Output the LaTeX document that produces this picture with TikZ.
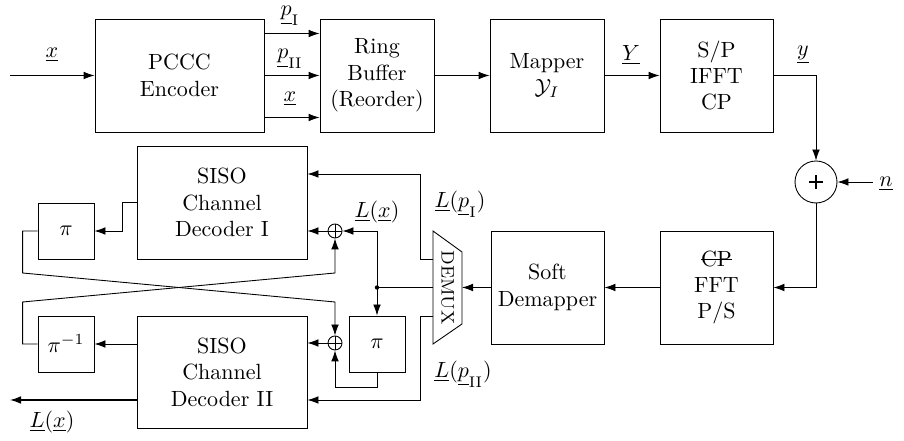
\documentclass[tikz,border=0pt]{standalone}
\usepackage{amsmath}
\usetikzlibrary{arrows.meta,calc}
\def\pu{0.4545pt}
\newcommand\demuxfont{\fontsize{8.2}{10}\selectfont}
\newcommand\mystrike[1]{\setbox0\hbox{#1}\rlap{\rule[0.4\ht0]{\wd0}{0.4pt}}\box0}
\tikzset{
  blk/.style={draw, minimum width=#1*\pu, minimum height=113*\pu, inner sep=0pt, align=center},
  smallblk/.style={draw, minimum size=56*\pu, inner sep=0pt},
  lbl/.style={inner sep=0pt},
  arr/.style={-{Latex[length=5pt,width=3.5pt]}},
  oplus/.style={draw, circle, minimum size=14*\pu, inner sep=0pt,
    path picture={\draw (path picture bounding box.north) -- (path picture bounding box.south)
      (path picture bounding box.west) -- (path picture bounding box.east);}}
}
\begin{document}
\begin{tikzpicture}[x=0.4545pt, y=-0.4545pt, line width=0.4pt]
\fill[white] (0,0) rectangle (904,441);
\useasboundingbox (0,0) rectangle (904,441);
% top row
\node[blk=169] (enc) at (179.5,75.5) {PCCC\\Encoder};
\node[blk=114] (rb) at (377,75.5) {Ring\\Buffer\\(Reorder)};
\node[blk=114] (map) at (547,75.5) {Mapper\\$\mathcal{Y}_I$};
\node[blk=113] (sp) at (716.5,75.5) {S/P\\IFFT\\CP};
\node[draw, circle, minimum size=42*\pu, inner sep=0pt] (add) at (816,182) {};
\draw[line width=1.3pt] ([xshift=-3.3pt]add.center) -- ([xshift=3.3pt]add.center)
  ([yshift=-3.3pt]add.center) -- ([yshift=3.3pt]add.center);
% bottom right
\node[blk=113] (fft) at (716.5,287.5) {\mystrike{CP}\\FFT\\P/S};
\node[blk=113] (dem) at (547.5,287.5) {Soft\\Demapper};
\draw (433,231) coordinate (dmtl) -- (462,252) coordinate (dmtr) -- (462,324) coordinate (dmbr) -- (433,344) coordinate (dmbl) -- cycle;
\node[rotate=-90, font=\demuxfont, inner sep=0pt] (demux) at (447.5,287.5) {DEMUX};
% decoders
\node[blk=170] (dec1) at (222,202.5) {SISO\\Channel\\Decoder I};
\node[blk=170, minimum height=112*\pu] (dec2) at (222,372) {SISO\\Channel\\Decoder II};
\node[smallblk] (pi1) at (66,231) {$\pi$};
\node[smallblk] (pinv) at (66,344) {$\pi^{-1}$};
\node[smallblk] (pi2) at (377,344) {$\pi$};
\node[oplus] (s1) at (335,231) {};
\node[oplus] (s2) at (335,343) {};
\coordinate (dot) at (377,287.5);
\fill (dot) circle (1pt);
% connectors top
\coordinate (xin) at (10,75.5);
\draw[arr] (xin) -- (enc.west);
\draw[arr] ([yshift=42*\pu]enc.east) -- ([yshift=42*\pu]rb.west);
\draw[arr] (enc.east) -- (rb.west);
\draw[arr] ([yshift=-42*\pu]enc.east) -- ([yshift=-42*\pu]rb.west);
\draw[arr] (rb) -- (map);
\draw[arr] (map) -- (sp);
\draw[arr] (sp.east) -| (add.north);
\coordinate (nin) at (873,182);
\draw[arr] (nin) -- (add.east);
\draw[arr] (add.south) |- (fft.east);
\draw[arr] (fft) -- (dem);
\draw[arr] (dem.west) -- (dmbr |- dem.west);
\draw (dmbl |- dem.west) -- (dot);
\draw[arr] (dot) |- (s1.east);
\draw[arr] (dot) -- (pi2.north);
\draw[arr] (pi2.south) -- ++(0,15) -| (s2.south);
\draw[arr] (s1) -- (dec1.east |- s1);
\draw[arr] (s2) -- (dec2.east |- s2);
\coordinate (d1in) at (433,259);
\coordinate (d2in) at (433,316);
\draw[arr] (d1in) -- ++(-13,0) |- ([yshift=28.5*\pu]dec1.east);
\draw[arr] (d2in) -- ++(-13,0) |- ([yshift=-28*\pu]dec2.east);
\draw[arr] (dec1.west) -- ++(-14,0) |- (pi1.east);
\draw[arr] (pi1.west) -- ++(-15,0) -- ++(0,42) -- (s2.north |- 0,302) -- (s2.north);
\draw[arr] (pinv.west) -- ++(-15,0) -- ++(0,-42) -- (s1.south |- 0,273) -- (s1.south);
\draw[arr] (dec2.west |- pinv) -- (pinv.east);
\coordinate (Lout) at (10,400);
\draw[arr, line width=0.6pt] ([yshift=-28*\pu]dec2.west) -- (Lout);
% labels
\node[lbl] at (52,55) {$\underline{x}$};
\node[lbl] at (290,16) {$\underline{p}_{\mathrm{I}}$};
\node[lbl] at (290,59) {$\underline{p}_{\mathrm{II}}$};
\node[lbl] at (290,99) {$\underline{x}$};
\node[lbl] at (631,55) {$\underline{Y}$};
\node[lbl] at (803,55) {$\underline{y}$};
\node[lbl] at (886,184) {$\underline{n}$};
\node[lbl] at (377,212) {$\underline{L}(\underline{x})$};
\node[lbl] at (460,204) {$\underline{L}(\underline{p}_{\mathrm{I}})$};
\node[lbl] at (463,374) {$\underline{L}(\underline{p}_{\mathrm{II}})$};
\node[lbl] at (52,422) {$\underline{L}(\underline{x})$};
\end{tikzpicture}
\end{document}
